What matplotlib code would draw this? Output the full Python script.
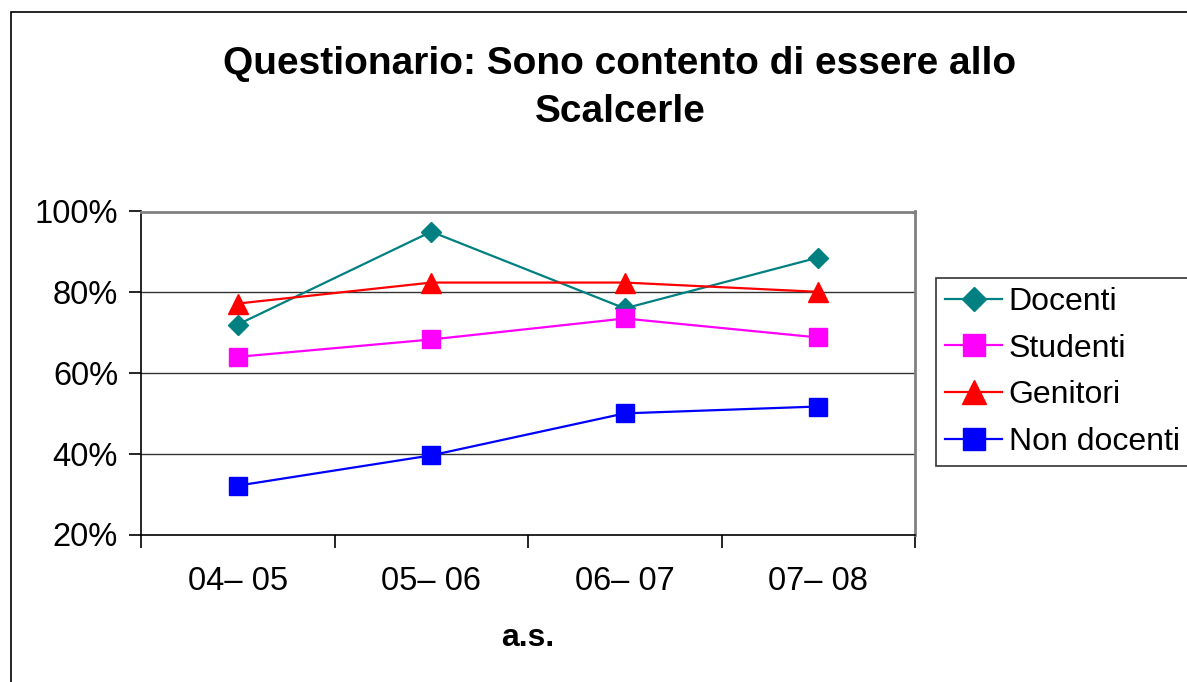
import matplotlib.pyplot as plt
from matplotlib.patches import Rectangle

plt.rcParams['font.family'] = ['Liberation Sans', 'DejaVu Sans']

anni = ['04– 05', '05– 06', '06– 07', '07– 08']
docenti = [72.0, 95.0, 76.0, 88.6]
studenti = [64.0, 68.3, 73.5, 68.8]
genitori = [77.2, 82.4, 82.4, 80.1]
non_docenti = [32.1, 39.6, 50.0, 51.7]
y_ticks = [20, 40, 60, 80, 100]

fig = plt.figure(figsize=(11.87, 6.82), dpi=100)

# outer chart frame (runs off the right and bottom of the image)
fig.patches.append(Rectangle((11 / 1187, -0.05), 1.2, 1 - 12 / 682 + 0.05,
                             transform=fig.transFigure, fill=False,
                             edgecolor='black', linewidth=1.2))

ax = fig.add_axes([141 / 1187, 1 - 534.5 / 682, 774 / 1187, 323 / 682])
x = range(len(anni))
ax.plot(x, docenti, color='#008080', marker='D', markersize=10.5, linewidth=1.6, label='Docenti')
ax.plot(x, studenti, color='#FF00FF', marker='s', markersize=13, linewidth=1.6, label='Studenti')
ax.plot(x, genitori, color='#FF0000', marker='^', markersize=14, linewidth=1.6, label='Genitori')
ax.plot(x, non_docenti, color='#0000FF', marker='s', markersize=13, linewidth=1.6, label='Non docenti')

ax.set_xlim(-0.5, len(anni) - 0.5)
ax.set_ylim(20, 100)
ax.set_yticks(y_ticks)
ax.set_yticklabels([f'{v}%' for v in y_ticks], fontsize=23.5)
ax.set_xticks([i - 0.5 for i in range(len(anni) + 1)])
ax.set_xticklabels([])
ax.set_xticks(list(x), minor=True)
ax.set_xticklabels(anni, minor=True, fontsize=23.5)
ax.tick_params(axis='x', which='minor', length=0, pad=23)
ax.tick_params(axis='x', which='major', length=9, width=1.2, direction='out')
ax.tick_params(axis='y', length=9, width=1.2, direction='out', pad=7.5)

for v in [40, 60, 80]:
    ax.axhline(v, color='#333333', linewidth=1.0, zorder=0)
ax.spines['top'].set_color('#808080')
ax.spines['right'].set_color('#808080')
ax.spines['top'].set_linewidth(2)
ax.spines['right'].set_linewidth(2)
ax.spines['left'].set_linewidth(1.2)
ax.spines['bottom'].set_linewidth(1.2)

fig.text(620 / 1187, 1 - 88 / 682, 'Questionario: Sono contento di essere allo\nScalcerle',
         ha='center', va='center', fontsize=28, fontweight='bold', linespacing=1.45)
fig.text(528 / 1187, 1 - 638 / 682, 'a.s.', ha='center', va='center',
         fontsize=23, fontweight='bold')

leg = fig.legend(loc='upper left', bbox_to_anchor=(936 / 1187, 1 - 278 / 682),
                 fontsize=23, frameon=True, fancybox=False, edgecolor='black',
                 borderpad=0.28, labelspacing=0.52, handlelength=1.8,
                 handletextpad=0.2, borderaxespad=0, markerscale=1.2)
leg.get_frame().set_linewidth(1.2)

fig.savefig('out.png', dpi=100)
